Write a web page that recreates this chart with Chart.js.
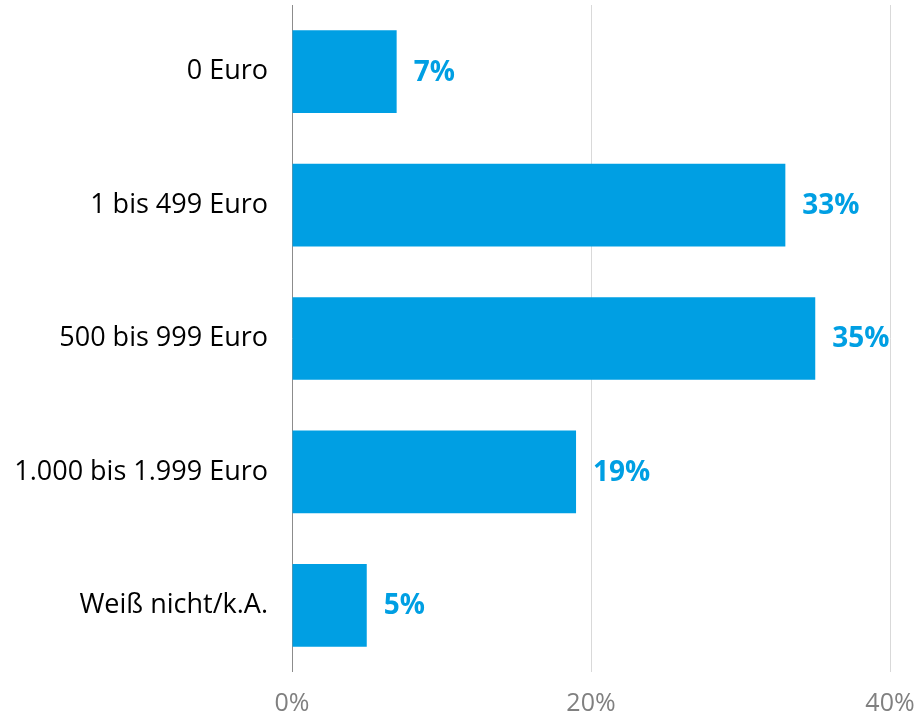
<!DOCTYPE html>
<html>
<head>
<meta charset="utf-8">
<script src="https://cdn.jsdelivr.net/npm/chart.js@4.4.1/dist/chart.umd.min.js"></script>
<style>
    html, body { margin: 0; padding: 0; background: #fff; }
    #wrap { width: 918px; height: 714px; }
</style>
</head>
<body>
<div id="wrap"><canvas id="chart"></canvas></div>
<script>
// Categories and shares (percent)
const categories = ['0 Euro', '1 bis 499 Euro', '500 bis 999 Euro', '1.000 bis 1.999 Euro', 'Weiß nicht/k.A.'];
const shares = [7, 33, 35, 19, 5];
const xTicks = [0, 20, 40];

const barColor = '#009FE3';
const fontFamily = "'Open Sans', sans-serif";

// Simple value labels next to each bar end
const valueLabels = {
    id: 'valueLabels',
    afterDatasetsDraw(chart) {
        const ctx = chart.ctx;
        const meta = chart.getDatasetMeta(0);
        ctx.save();
        ctx.font = 'bold 28px ' + fontFamily;
        ctx.fillStyle = barColor;
        ctx.textAlign = 'left';
        ctx.textBaseline = 'middle';
        meta.data.forEach((bar, i) => {
            ctx.fillText(shares[i] + '%', bar.x + 17, bar.y + 1);
        });
        ctx.restore();
    }
};

// drop the extra room Chart.js keeps for edge labels
function noEdgePadding(scale) {
    scale.paddingTop = 0;
    scale.paddingBottom = 0;
    scale.paddingLeft = 0;
    scale.paddingRight = 0;
}

const ctx = document.getElementById('chart').getContext('2d');
new Chart(ctx, {
    type: 'bar',
    data: {
        labels: categories,
        datasets: [{
            data: shares,
            backgroundColor: barColor,
            borderWidth: 0,
            categoryPercentage: 1,
            barPercentage: 0.62
        }]
    },
    options: {
        indexAxis: 'y',
        responsive: true,
        maintainAspectRatio: false,
        animation: false,
        layout: {
            padding: { top: 5, right: 28, left: 0, bottom: 0 }
        },
        scales: {
            x: {
                min: 0,
                max: 40,
                afterBuildTicks: function(scale) {
                    scale.ticks = xTicks.map(v => ({ value: v }));
                },
                afterFit: function(scale) {
                    scale.height = 42;
                    noEdgePadding(scale);
                },
                grid: {
                    drawTicks: false,
                    color: function(context) {
                        return context.tick && context.tick.value === 0 ? '#8c8c8c' : '#d9d9d9';
                    },
                    lineWidth: 1
                },
                border: { display: false },
                ticks: {
                    padding: 17,
                    color: '#808080',
                    font: { family: fontFamily, size: 25 },
                    callback: function(value) {
                        return value + '%';
                    }
                }
            },
            y: {
                afterFit: function(scale) {
                    scale.width = 292;
                    noEdgePadding(scale);
                },
                grid: { display: false, drawTicks: false },
                border: { display: false },
                ticks: {
                    padding: 24,
                    color: '#000',
                    font: { family: fontFamily, size: 27 }
                }
            }
        },
        plugins: {
            legend: { display: false },
            tooltip: { enabled: false }
        }
    },
    plugins: [valueLabels]
});
</script>
</body>
</html>
